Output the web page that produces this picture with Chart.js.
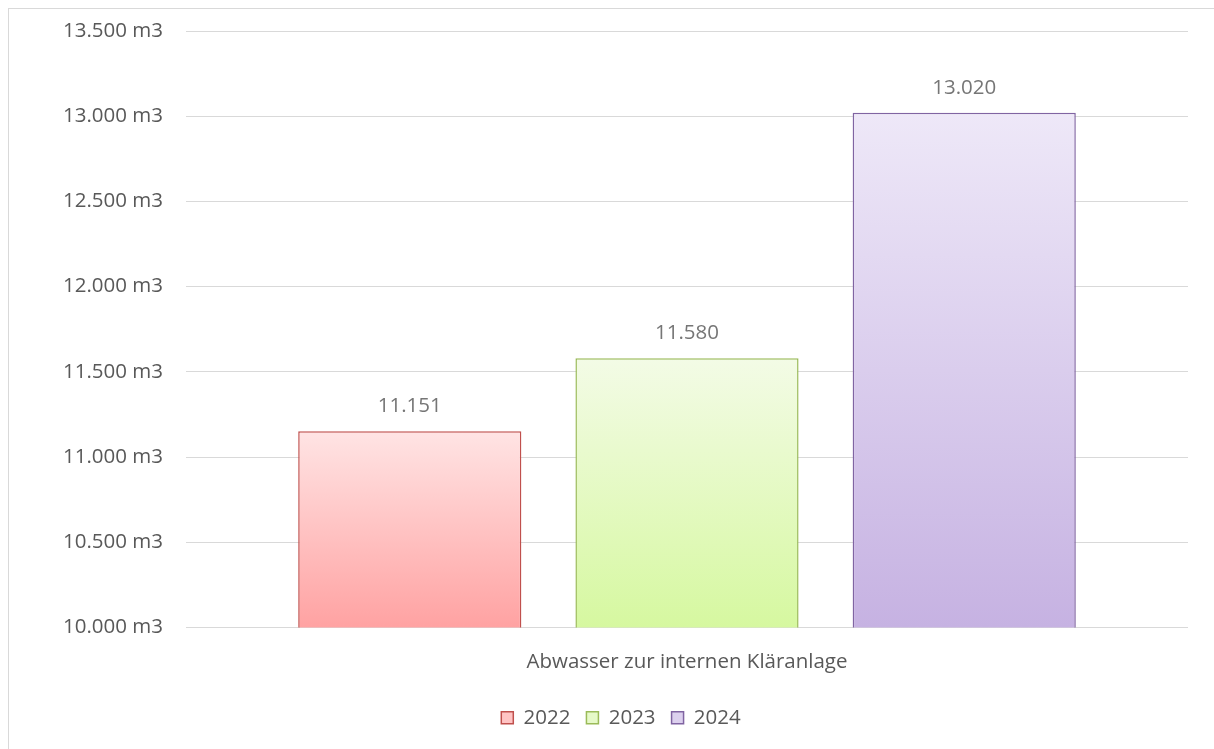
<!DOCTYPE html>
<html>
<head>
<meta charset="utf-8">
<script src="https://cdn.jsdelivr.net/npm/chart.js@4.4.1/dist/chart.umd.min.js"></script>
<style>
  html, body { margin: 0; padding: 0; background: #fff; overflow: hidden; }
  #frame { position: absolute; left: 8px; top: 8px; width: 1220px; height: 760px;
           border-left: 1px solid #d9d9d9; border-top: 1px solid #d9d9d9; }
  #wrap { position: absolute; left: 0; top: 0; width: 1214px; height: 749px; }
</style>
</head>
<body>
<div id="frame"></div>
<div id="wrap"><canvas id="chart"></canvas></div>
<script>
const categories = ["Abwasser zur internen Kläranlage"];
const years = ["2022", "2023", "2024"];
const values = [11151, 11580, 13020];
const yTicks = [10000, 10500, 11000, 11500, 12000, 12500, 13000, 13500];

const borderColors = ["#c0504d", "#9bbb59", "#8064a2"];
const topColors = ["#ffe4e4", "#f3fbe6", "#eee8f8"];
const bottomColors = ["#ffa2a2", "#d6f8a0", "#c6b2e2"];
const legendFill = ["#ffc4c4", "#e6f9c8", "#dcd0ee"];

const FONT = "Open Sans";
const FSIZE = 20.5;

// german thousands separator
const fmt = v => String(v).replace(/\B(?=(\d{3})+(?!\d))/g, ".");

const barFill = (i) => (ctx) => {
  const chart = ctx.chart;
  const y = chart.scales && chart.scales.y;
  if (!chart.chartArea || !y || ctx.raw === undefined) return bottomColors[i];
  const top = y.getPixelForValue(ctx.raw);
  const bottom = y.getPixelForValue(y.min);
  if (!isFinite(top) || !isFinite(bottom) || top === bottom) return bottomColors[i];
  const g = chart.ctx.createLinearGradient(0, top, 0, bottom);
  g.addColorStop(0, topColors[i]);
  g.addColorStop(1, bottomColors[i]);
  return g;
};

const valueLabels = {
  id: "valueLabels",
  afterDatasetsDraw(chart) {
    const ctx = chart.ctx;
    ctx.save();
    ctx.font = FSIZE + "px '" + FONT + "'";
    ctx.fillStyle = "#767676";
    ctx.textAlign = "center";
    ctx.textBaseline = "middle";
    chart.data.datasets.forEach((ds, i) => {
      const bar = chart.getDatasetMeta(i).data[0];
      ctx.fillText(fmt(ds.data[0]), bar.x, bar.y - 25);
    });
    ctx.restore();
  }
};

// legend sits centred on the whole frame, a bit right of the canvas centre
const legendShift = {
  id: "legendShift",
  afterLayout(chart) {
    if (chart.legend) {
      chart.legend.left += 27;
      chart.legend.right += 27;
    }
  }
};

new Chart(document.getElementById("chart"), {
  type: "bar",
  plugins: [valueLabels, legendShift],
  data: {
    labels: categories,
    datasets: years.map((yr, i) => ({
      label: yr,
      data: [values[i]],
      backgroundColor: barFill(i),
      borderColor: borderColors[i],
      borderWidth: 1.5,
      borderSkipped: false,
      categoryPercentage: 0.83,
      barPercentage: 0.805
    }))
  },
  options: {
    responsive: true,
    maintainAspectRatio: false,
    animation: false,
    layout: { padding: { top: 31, right: 26, left: 0, bottom: 11 } },
    scales: {
      x: {
        afterFit: (axis) => { axis.height = 64; },
        grid: { display: false },
        border: { display: false },
        ticks: { color: "#595959", font: { size: FSIZE, family: FONT }, padding: 14 }
      },
      y: {
        min: 10000,
        max: 13500,
        afterBuildTicks: (axis) => { axis.ticks = yTicks.map(v => ({ value: v })); },
        afterFit: (axis) => {
          axis.width = 186;
          axis.paddingTop = 0;
          axis.paddingBottom = 0;
        },
        grid: { color: "#d9d9d9", drawTicks: false },
        border: { display: false },
        ticks: {
          color: "#595959",
          font: { size: FSIZE, family: FONT },
          padding: 23,
          callback: v => fmt(v) + " m3"
        }
      }
    },
    plugins: {
      tooltip: { enabled: false },
      legend: {
        position: "bottom",
        labels: {
          color: "#595959",
          font: { size: FSIZE, family: FONT },
          boxWidth: 12,
          boxHeight: 12,
          padding: 16,
          generateLabels: (chart) => chart.data.datasets.map((ds, i) => ({
            text: ds.label,
            fillStyle: legendFill[i],
            strokeStyle: borderColors[i],
            lineWidth: 1.5,
            fontColor: "#595959",
            hidden: false,
            datasetIndex: i
          }))
        }
      }
    }
  }
});
</script>
</body>
</html>
